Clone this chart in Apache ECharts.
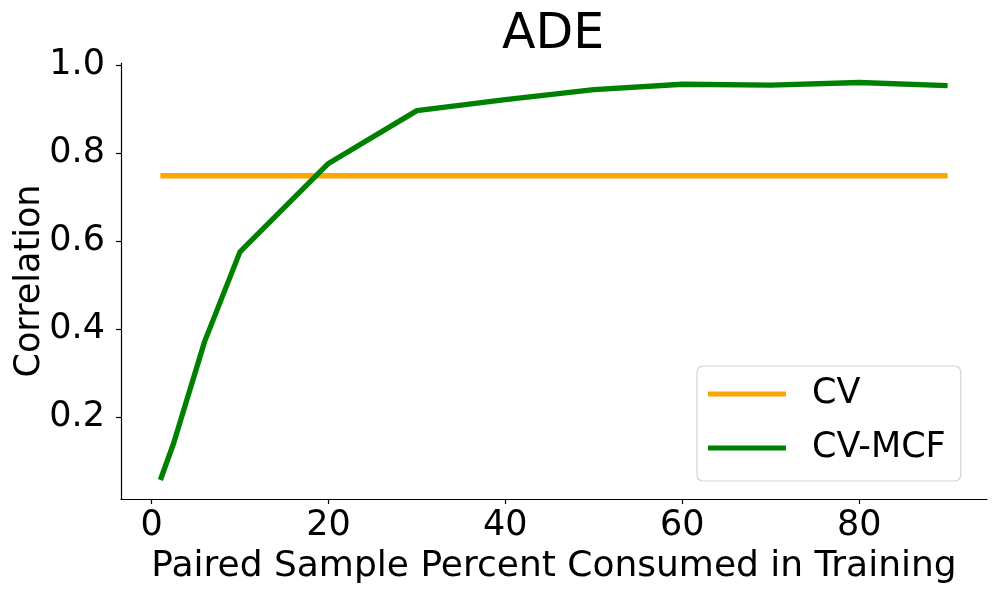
<!DOCTYPE html>
<html>
<head>
<meta charset="utf-8">
<script src="https://cdn.jsdelivr.net/npm/echarts@6/dist/echarts.min.js"></script>
<style>
html,body{margin:0;padding:0;background:#fff;}
#chart{width:997px;height:598px;}
</style>
</head>
<body>
<div id="chart"></div>
<script>
var titleText = 'ADE';
var xName = 'Paired Sample Percent Consumed in Training';
var yName = 'Correlation';
var xVals = [1, 2.5, 6, 10, 20, 30, 40, 50, 60, 70, 80, 90];
var cvMcf = [0.0575, 0.141, 0.372, 0.576, 0.777, 0.897, 0.922, 0.945, 0.957, 0.955, 0.961, 0.954];
var cvVals = [0.749, 0.749, 0.749, 0.749, 0.749, 0.749, 0.749, 0.749, 0.749, 0.749, 0.749, 0.749];
var xTicks = [0, 20, 40, 60, 80];
var yTicks = [0.2, 0.4, 0.6, 0.8, 1.0];

var FONT = 'DejaVu Sans';
function pairs(xs, ys) { return xs.map(function (x, i) { return [x, ys[i]]; }); }

var chart = echarts.init(document.getElementById('chart'), null, {renderer: 'canvas'});
chart.setOption({
  animation: false,
  backgroundColor: '#ffffff',
  title: {
    text: titleText, left: 497, top: 6,
    textStyle: {fontFamily: FONT, fontSize: 49, fontWeight: 'normal', color: '#000'}
  },
  grid: {left: 121, right: 10, top: 63, bottom: 99, containLabel: false, outerBoundsMode: 'none'},
  legend: {
    orient: 'vertical', left: 697, top: 366,
    data: ['CV', 'CV-MCF'],
    icon: 'rect', itemWidth: 78, itemHeight: 5, itemGap: 14,
    padding: [8, 15, 13, 11],
    backgroundColor: '#fff', borderColor: '#d4d4d4', borderWidth: 1.2, borderRadius: 6,
    textStyle: {fontFamily: FONT, fontSize: 35, color: '#000', lineHeight: 40, padding: [0, 0, 0, 21]}
  },
  xAxis: {
    type: 'value', min: -3.45, max: 94.45,
    name: xName, nameLocation: 'middle', nameGap: 50, nameMoveOverlap: false,
    nameTextStyle: {fontFamily: FONT, fontSize: 36, color: '#000'},
    splitLine: {show: false},
    axisLine: {show: true, onZero: false, lineStyle: {color: '#000', width: 1.2}},
    axisTick: {show: true, length: 5, customValues: xTicks, lineStyle: {color: '#000', width: 1.2}},
    axisLabel: {customValues: xTicks, margin: 9, fontFamily: FONT, fontSize: 35, color: '#000'}
  },
  yAxis: {
    type: 'value', min: 0.0143, max: 1.0053,
    name: yName, nameLocation: 'middle', nameGap: 74, nameMoveOverlap: false,
    nameTextStyle: {fontFamily: FONT, fontSize: 35, color: '#000'},
    splitLine: {show: false},
    axisLine: {show: true, onZero: false, lineStyle: {color: '#000', width: 1.2}},
    axisTick: {show: true, length: 5, customValues: yTicks, lineStyle: {color: '#000', width: 1.2}},
    axisLabel: {customValues: yTicks, margin: 16, fontFamily: FONT, fontSize: 35, color: '#000',
      formatter: function (v) { return v.toFixed(1); }}
  },
  series: [
    {name: 'CV', type: 'line', data: pairs(xVals, cvVals), showSymbol: false, symbol: 'none',
      color: '#FFA500', lineStyle: {color: '#FFA500', width: 5.3, cap: 'butt'}},
    {name: 'CV-MCF', type: 'line', data: pairs(xVals, cvMcf), showSymbol: false, symbol: 'none',
      color: '#008000', lineStyle: {color: '#008000', width: 5.3, cap: 'butt', join: 'round'}}
  ]
});
</script>
</body>
</html>
